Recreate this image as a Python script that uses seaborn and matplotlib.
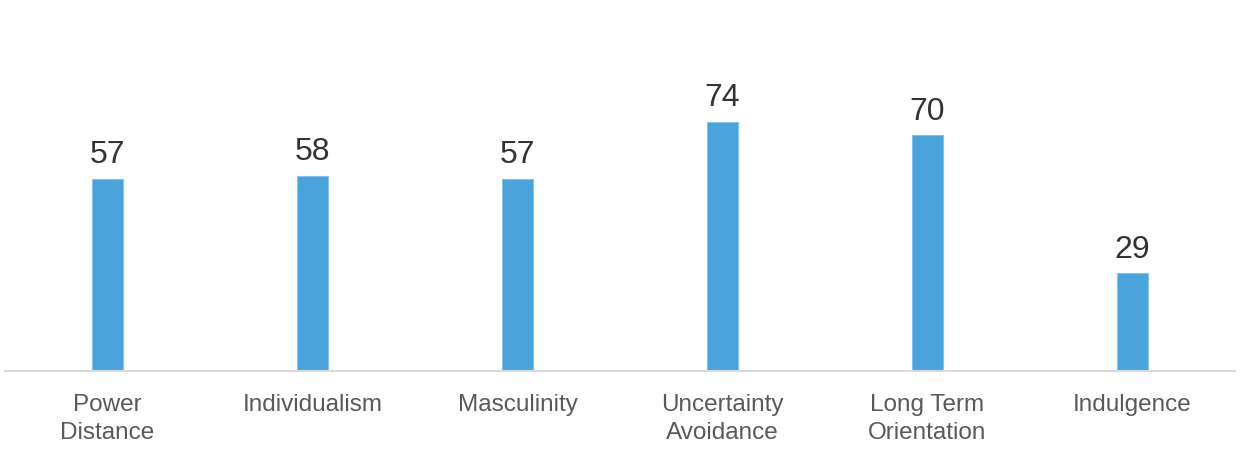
import seaborn as sns
import pandas as pd
import matplotlib.pyplot as plt

# Datos del gráfico
dimensiones = ["Power\nDistance", "Individualism", "Masculinity",
               "Uncertainty\nAvoidance", "Long Term\nOrientation", "Indulgence"]
puntajes = [57, 58, 57, 74, 70, 29]

df = pd.DataFrame({"Dimension": dimensiones, "Score": puntajes})

sns.set_theme(style="white")
plt.rcParams['font.family'] = ['Liberation Sans', 'DejaVu Sans']

fig = plt.figure(figsize=(12.6, 4.64), dpi=100)
ax = fig.add_axes([5 / 1260, 92 / 464, 1230 / 1260, 372 / 464])

sns.barplot(data=df, x="Dimension", y="Score", color="#4aa3db", width=0.148,
            edgecolor="#86c3ea", linewidth=0.8, saturation=1, ax=ax)

for i, v in enumerate(puntajes):
    ax.annotate(str(v), (i, v), xytext=(0, 7), textcoords="offset points",
                ha="center", va="bottom", fontsize=23, color="#333333")

ax.set_xlim(-0.5, 5.5)
ax.set_ylim(0, 110.5)
ax.set_xlabel("")
ax.set_ylabel("")
ax.set_yticks([])
for s in ["top", "right", "left"]:
    ax.spines[s].set_visible(False)
ax.spines["bottom"].set_color("#d9d9d9")
ax.spines["bottom"].set_linewidth(1.5)
ax.tick_params(axis="x", length=0, pad=16, labelsize=17.5, labelcolor="#595959")
for lbl in ax.get_xticklabels():
    lbl.set_linespacing(1.35)

fig.savefig("out.png", dpi=100)
